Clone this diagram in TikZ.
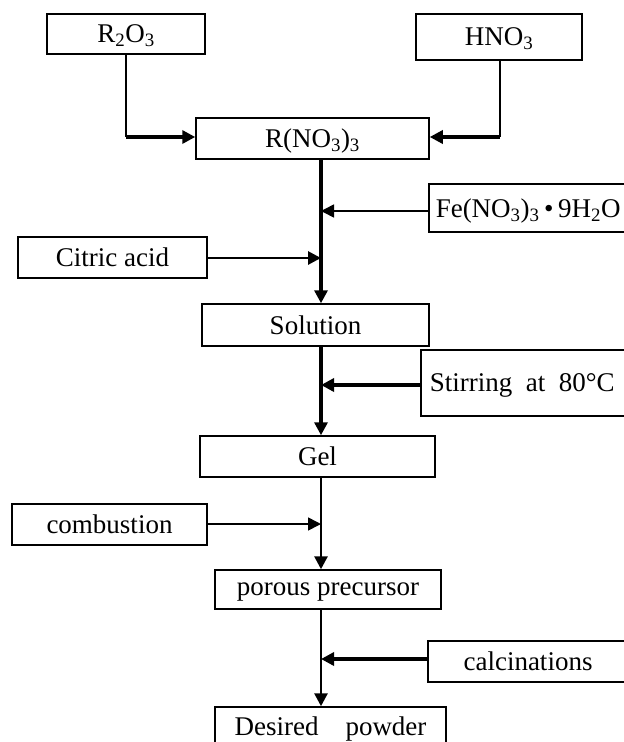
\documentclass[tikz,border=0pt]{standalone}
\usepackage{fontspec}
\setmainfont{Liberation Serif}
\usetikzlibrary{arrows.meta,calc}
\begin{document}
\begin{tikzpicture}[x=1pt,y=-1pt,
  box/.style={draw,line width=1.5pt,inner sep=0pt,text depth=0pt,font=\fontsize{27}{30}\selectfont},
  thin/.style={line width=1.6pt},
  mid/.style={line width=2.8pt},
  thick/.style={line width=3.8pt},
  tip/.style={-{Triangle[length=13pt,width=13pt]}}]
\useasboundingbox (0,0) rectangle (624,742);
\coordinate (mx) at (321,0);
% boxes
\node[box,minimum width=158pt,minimum height=40pt] (R2O3) at (126,34) {R\textsubscript{2}O\textsubscript{3}};
\node[box,minimum width=166pt,minimum height=46pt] (HNO3) at (499,37) {HNO\textsubscript{3}};
\node[box,minimum width=233pt,minimum height=41pt] (RNO) at (312.5,138.5) {R(NO\textsubscript{3})\textsubscript{3}};
\node[box,minimum width=202pt,minimum height=48pt,anchor=west,align=left,text width=194pt,inner xsep=7pt] (Fe) at (428,208) {Fe(NO\textsubscript{3})\textsubscript{3}\,•\,9H\textsubscript{2}O};
\node[box,minimum width=189pt,minimum height=41pt] (Cit) at (112.5,257.5) {Citric acid};
\node[box,minimum width=227pt,minimum height=42pt] (Sol) at (315.5,325) {Solution};
\node[box,minimum height=66pt,anchor=west,align=left,text width=200pt,inner xsep=9pt] (Stir) at (420,383) {Stirring\hspace{0.5em}at\hspace{0.5em}80°C};
\node[box,minimum width=235pt,minimum height=41pt] (Gel) at (317.5,456.5) {Gel};
\node[box,minimum width=195pt,minimum height=41pt] (Comb) at (109.5,524.5) {combustion};
\node[box,minimum width=226pt,minimum height=39pt] (Por) at (328,589.5) {porous precursor};
\node[box,minimum width=200pt,minimum height=41pt] (Calc) at (528,661.5) {calcinations};
\node[box,minimum width=231pt,minimum height=44pt,text depth=5pt] (Des) at (330.5,729) {Desired\hspace{1em}powder};
% junction coordinates
\coordinate (jR) at (126,137);
\coordinate (jH) at (500,137);
\coordinate (jFe) at (321,211);
\coordinate (jCit) at (321,258);
\coordinate (jStir) at (321,385);
\coordinate (jComb) at (321,524);
\coordinate (jCalc) at (321,659);
% connectors
\draw[thin] (R2O3.south -| jR) -- (jR);
\draw[thick,tip] (jR) -- (RNO.west |- jR);
\draw[thin] (HNO3.south -| jH) -- (jH);
\draw[thick,tip] (jH) -- (RNO.east |- jH);
\draw[thick,tip] (RNO.south -| mx) -- (Sol.north -| mx);
\draw[thin,tip] (Fe.west |- jFe) -- (jFe);
\draw[mid,tip] (Cit.east |- jCit) -- (jCit);
\draw[thick,tip] (Sol.south -| mx) -- (Gel.north -| mx);
\draw[thick,tip] (Stir.west |- jStir) -- (jStir);
\draw[mid,tip] (Gel.south -| mx) -- (Por.north -| mx);
\draw[thin,tip] (Comb.east |- jComb) -- (jComb);
\draw[mid,tip] (Por.south -| mx) -- (Des.north -| mx);
\draw[thick,tip] (Calc.west |- jCalc) -- (jCalc);
\end{tikzpicture}
\end{document}
